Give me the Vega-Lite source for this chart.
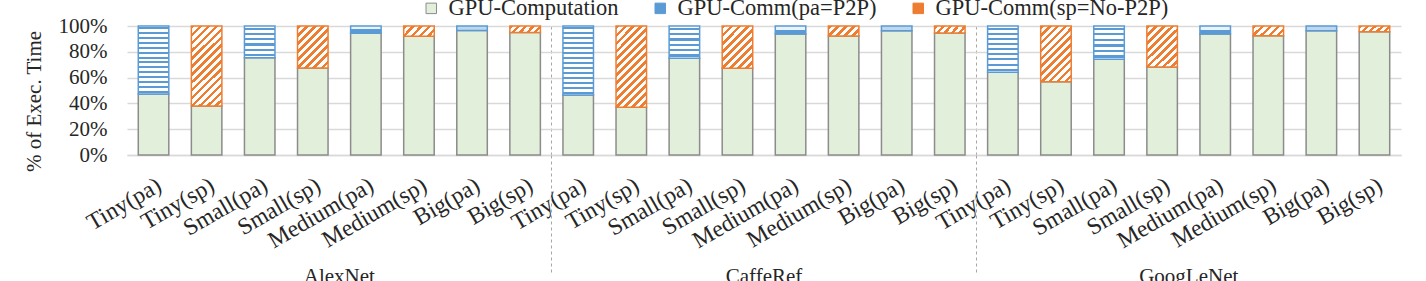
{
"$schema": "https://vega.github.io/schema/vega-lite/v6.json",
"width": 1274, "height": 129,
"autosize": {"type": "none"},
"padding": {"left": 127, "top": 26, "right": 25, "bottom": 126},
"background": "white",
"config": {"font": "Liberation Serif", "view": {"stroke": null}, "axis": {"labelFont": "Liberation Serif", "titleFont": "Liberation Serif"}, "legend": {"labelFont": "Liberation Serif"}, "text": {"font": "Liberation Serif"}},
"data": {"values": [
{"key":"AlexNet|Tiny(pa)","series":"GPU-Computation","value":47.3},{"key":"AlexNet|Tiny(pa)","series":"GPU-Comm(pa=P2P)","value":52.7},
{"key":"AlexNet|Tiny(sp)","series":"GPU-Computation","value":38},{"key":"AlexNet|Tiny(sp)","series":"GPU-Comm(sp=No-P2P)","value":62},
{"key":"AlexNet|Small(pa)","series":"GPU-Computation","value":75.4},{"key":"AlexNet|Small(pa)","series":"GPU-Comm(pa=P2P)","value":24.6},
{"key":"AlexNet|Small(sp)","series":"GPU-Computation","value":67.4},{"key":"AlexNet|Small(sp)","series":"GPU-Comm(sp=No-P2P)","value":32.6},
{"key":"AlexNet|Medium(pa)","series":"GPU-Computation","value":94.3},{"key":"AlexNet|Medium(pa)","series":"GPU-Comm(pa=P2P)","value":5.7},
{"key":"AlexNet|Medium(sp)","series":"GPU-Computation","value":92},{"key":"AlexNet|Medium(sp)","series":"GPU-Comm(sp=No-P2P)","value":8},
{"key":"AlexNet|Big(pa)","series":"GPU-Computation","value":96.5},{"key":"AlexNet|Big(pa)","series":"GPU-Comm(pa=P2P)","value":3.5},
{"key":"AlexNet|Big(sp)","series":"GPU-Computation","value":95},{"key":"AlexNet|Big(sp)","series":"GPU-Comm(sp=No-P2P)","value":5},
{"key":"CaffeRef|Tiny(pa)","series":"GPU-Computation","value":46.5},{"key":"CaffeRef|Tiny(pa)","series":"GPU-Comm(pa=P2P)","value":53.5},
{"key":"CaffeRef|Tiny(sp)","series":"GPU-Computation","value":37},{"key":"CaffeRef|Tiny(sp)","series":"GPU-Comm(sp=No-P2P)","value":63},
{"key":"CaffeRef|Small(pa)","series":"GPU-Computation","value":75},{"key":"CaffeRef|Small(pa)","series":"GPU-Comm(pa=P2P)","value":25},
{"key":"CaffeRef|Small(sp)","series":"GPU-Computation","value":67.2},{"key":"CaffeRef|Small(sp)","series":"GPU-Comm(sp=No-P2P)","value":32.8},
{"key":"CaffeRef|Medium(pa)","series":"GPU-Computation","value":93.8},{"key":"CaffeRef|Medium(pa)","series":"GPU-Comm(pa=P2P)","value":6.2},
{"key":"CaffeRef|Medium(sp)","series":"GPU-Computation","value":92.2},{"key":"CaffeRef|Medium(sp)","series":"GPU-Comm(sp=No-P2P)","value":7.8},
{"key":"CaffeRef|Big(pa)","series":"GPU-Computation","value":96.4},{"key":"CaffeRef|Big(pa)","series":"GPU-Comm(pa=P2P)","value":3.6},
{"key":"CaffeRef|Big(sp)","series":"GPU-Computation","value":94.5},{"key":"CaffeRef|Big(sp)","series":"GPU-Comm(sp=No-P2P)","value":5.5},
{"key":"GoogLeNet|Tiny(pa)","series":"GPU-Computation","value":64.1},{"key":"GoogLeNet|Tiny(pa)","series":"GPU-Comm(pa=P2P)","value":35.9},
{"key":"GoogLeNet|Tiny(sp)","series":"GPU-Computation","value":56.8},{"key":"GoogLeNet|Tiny(sp)","series":"GPU-Comm(sp=No-P2P)","value":43.2},
{"key":"GoogLeNet|Small(pa)","series":"GPU-Computation","value":74.2},{"key":"GoogLeNet|Small(pa)","series":"GPU-Comm(pa=P2P)","value":25.8},
{"key":"GoogLeNet|Small(sp)","series":"GPU-Computation","value":68.2},{"key":"GoogLeNet|Small(sp)","series":"GPU-Comm(sp=No-P2P)","value":31.8},
{"key":"GoogLeNet|Medium(pa)","series":"GPU-Computation","value":93.8},{"key":"GoogLeNet|Medium(pa)","series":"GPU-Comm(pa=P2P)","value":6.2},
{"key":"GoogLeNet|Medium(sp)","series":"GPU-Computation","value":92.5},{"key":"GoogLeNet|Medium(sp)","series":"GPU-Comm(sp=No-P2P)","value":7.5},
{"key":"GoogLeNet|Big(pa)","series":"GPU-Computation","value":96.4},{"key":"GoogLeNet|Big(pa)","series":"GPU-Comm(pa=P2P)","value":3.6},
{"key":"GoogLeNet|Big(sp)","series":"GPU-Computation","value":95.6},{"key":"GoogLeNet|Big(sp)","series":"GPU-Comm(sp=No-P2P)","value":4.4}
]},
"encoding": {
  "y": {"field": "value", "type": "quantitative", "stack": "zero", "scale": {"domain": [0, 100]},
    "axis": {"values": [0,20,40,60,80,100], "labelExpr": "datum.value + '%'", "title": "% of Exec. Time", "titleFont": "Liberation Serif", "titleFontSize": 21, "titleFontWeight": "normal", "titleColor": "#262626", "titlePadding": 14, "titleY": 75, "labelFont": "Liberation Serif", "labelFontSize": 21, "labelColor": "#262626", "labelPadding": 20, "ticks": false, "domain": false, "gridColor": "#D9D9D9", "gridWidth": 1.5}}
},
"layer": [
 {"mark": {"type": "bar", "strokeWidth": 1.5},
  "encoding": {
   "x": {"field": "key", "type": "nominal",
     "scale": {"domain": ["AlexNet|Tiny(pa)","AlexNet|Tiny(sp)","AlexNet|Small(pa)","AlexNet|Small(sp)","AlexNet|Medium(pa)","AlexNet|Medium(sp)","AlexNet|Big(pa)","AlexNet|Big(sp)","CaffeRef|Tiny(pa)","CaffeRef|Tiny(sp)","CaffeRef|Small(pa)","CaffeRef|Small(sp)","CaffeRef|Medium(pa)","CaffeRef|Medium(sp)","CaffeRef|Big(pa)","CaffeRef|Big(sp)","GoogLeNet|Tiny(pa)","GoogLeNet|Tiny(sp)","GoogLeNet|Small(pa)","GoogLeNet|Small(sp)","GoogLeNet|Medium(pa)","GoogLeNet|Medium(sp)","GoogLeNet|Big(pa)","GoogLeNet|Big(sp)"], "paddingInner": 0.425, "paddingOuter": 0.2125},
     "axis": {"orient": "bottom", "title": null, "labelExpr": "split(datum.label, '|')[1]", "labelFont": "Liberation Serif", "labelAngle": -30, "labelAlign": "right", "labelBaseline": "top", "labelPadding": 18, "labelFontSize": 23.5, "labelColor": "#262626", "ticks": false, "tickSize": 0, "domainColor": "#D9D9D9", "domainWidth": 1.5, "labelOverlap": false, "labelBound": false, "labelLimit": 0, "grid": false}},
   "order": {"field": "series", "sort": "descending"},
   "stroke": {"field": "series", "type": "nominal",
     "scale": {"domain": ["GPU-Computation","GPU-Comm(pa=P2P)","GPU-Comm(sp=No-P2P)"], "range": ["#8C8C8C","#5B9BD5","#ED7D31"]},
     "legend": {"orient": "none", "legendX": 293, "legendY": -29, "direction": "horizontal", "title": null, "columnPadding": 30, "labelOffset": 6, "symbolType": "square", "symbolSize": 110, "symbolStrokeWidth": 1, "labelFont": "Liberation Serif", "labelFontSize": 22.5, "labelColor": "#262626", "labelLimit": 0, "padding": 0}},
   "fill": {"field": "series", "type": "nominal",
     "scale": {"domain": ["GPU-Computation","GPU-Comm(pa=P2P)","GPU-Comm(sp=No-P2P)"], "range": ["#E2EFDA","#5B9BD5","#ED7D31"]},
     "legend": {"orient": "none", "legendX": 293, "legendY": -29, "direction": "horizontal", "title": null, "columnPadding": 30, "labelOffset": 6, "symbolType": "square", "symbolSize": 110, "symbolStrokeWidth": 1, "labelFont": "Liberation Serif", "labelFontSize": 22.5, "labelColor": "#262626", "labelLimit": 0, "padding": 0},
     "condition": [
      {"test": "datum.series === 'GPU-Comm(pa=P2P)' && datum.value > 45", "value": {"gradient": "linear", "x1": 0, "y1": 0, "x2": 0, "y2": 1, "stops": [
        {"offset":0,"color":"#FFFFFF"},
        {"offset":0.0214,"color":"#FFFFFF"},{"offset":0.0214,"color":"#5B9BD5"},{"offset":0.05,"color":"#5B9BD5"},{"offset":0.05,"color":"#FFFFFF"},
        {"offset":0.0929,"color":"#FFFFFF"},{"offset":0.0929,"color":"#5B9BD5"},{"offset":0.1214,"color":"#5B9BD5"},{"offset":0.1214,"color":"#FFFFFF"},
        {"offset":0.1643,"color":"#FFFFFF"},{"offset":0.1643,"color":"#5B9BD5"},{"offset":0.1929,"color":"#5B9BD5"},{"offset":0.1929,"color":"#FFFFFF"},
        {"offset":0.2357,"color":"#FFFFFF"},{"offset":0.2357,"color":"#5B9BD5"},{"offset":0.2643,"color":"#5B9BD5"},{"offset":0.2643,"color":"#FFFFFF"},
        {"offset":0.3071,"color":"#FFFFFF"},{"offset":0.3071,"color":"#5B9BD5"},{"offset":0.3357,"color":"#5B9BD5"},{"offset":0.3357,"color":"#FFFFFF"},
        {"offset":0.3786,"color":"#FFFFFF"},{"offset":0.3786,"color":"#5B9BD5"},{"offset":0.4071,"color":"#5B9BD5"},{"offset":0.4071,"color":"#FFFFFF"},
        {"offset":0.45,"color":"#FFFFFF"},{"offset":0.45,"color":"#5B9BD5"},{"offset":0.4786,"color":"#5B9BD5"},{"offset":0.4786,"color":"#FFFFFF"},
        {"offset":0.5214,"color":"#FFFFFF"},{"offset":0.5214,"color":"#5B9BD5"},{"offset":0.55,"color":"#5B9BD5"},{"offset":0.55,"color":"#FFFFFF"},
        {"offset":0.5929,"color":"#FFFFFF"},{"offset":0.5929,"color":"#5B9BD5"},{"offset":0.6214,"color":"#5B9BD5"},{"offset":0.6214,"color":"#FFFFFF"},
        {"offset":0.6643,"color":"#FFFFFF"},{"offset":0.6643,"color":"#5B9BD5"},{"offset":0.6929,"color":"#5B9BD5"},{"offset":0.6929,"color":"#FFFFFF"},
        {"offset":0.7357,"color":"#FFFFFF"},{"offset":0.7357,"color":"#5B9BD5"},{"offset":0.7643,"color":"#5B9BD5"},{"offset":0.7643,"color":"#FFFFFF"},
        {"offset":0.8071,"color":"#FFFFFF"},{"offset":0.8071,"color":"#5B9BD5"},{"offset":0.8357,"color":"#5B9BD5"},{"offset":0.8357,"color":"#FFFFFF"},
        {"offset":0.8786,"color":"#FFFFFF"},{"offset":0.8786,"color":"#5B9BD5"},{"offset":0.9071,"color":"#5B9BD5"},{"offset":0.9071,"color":"#FFFFFF"},
        {"offset":0.95,"color":"#FFFFFF"},{"offset":0.95,"color":"#5B9BD5"},{"offset":0.9786,"color":"#5B9BD5"},{"offset":0.9786,"color":"#FFFFFF"},
        {"offset":1,"color":"#FFFFFF"}]}},
      {"test": "datum.series === 'GPU-Comm(pa=P2P)' && datum.value > 30", "value": {"gradient": "linear", "x1": 0, "y1": 0, "x2": 0, "y2": 1, "stops": [
        {"offset":0,"color":"#FFFFFF"},
        {"offset":0.0333,"color":"#FFFFFF"},{"offset":0.0333,"color":"#5B9BD5"},{"offset":0.0778,"color":"#5B9BD5"},{"offset":0.0778,"color":"#FFFFFF"},
        {"offset":0.1444,"color":"#FFFFFF"},{"offset":0.1444,"color":"#5B9BD5"},{"offset":0.1889,"color":"#5B9BD5"},{"offset":0.1889,"color":"#FFFFFF"},
        {"offset":0.2556,"color":"#FFFFFF"},{"offset":0.2556,"color":"#5B9BD5"},{"offset":0.3,"color":"#5B9BD5"},{"offset":0.3,"color":"#FFFFFF"},
        {"offset":0.3667,"color":"#FFFFFF"},{"offset":0.3667,"color":"#5B9BD5"},{"offset":0.4111,"color":"#5B9BD5"},{"offset":0.4111,"color":"#FFFFFF"},
        {"offset":0.4778,"color":"#FFFFFF"},{"offset":0.4778,"color":"#5B9BD5"},{"offset":0.5222,"color":"#5B9BD5"},{"offset":0.5222,"color":"#FFFFFF"},
        {"offset":0.5889,"color":"#FFFFFF"},{"offset":0.5889,"color":"#5B9BD5"},{"offset":0.6333,"color":"#5B9BD5"},{"offset":0.6333,"color":"#FFFFFF"},
        {"offset":0.7,"color":"#FFFFFF"},{"offset":0.7,"color":"#5B9BD5"},{"offset":0.7444,"color":"#5B9BD5"},{"offset":0.7444,"color":"#FFFFFF"},
        {"offset":0.8111,"color":"#FFFFFF"},{"offset":0.8111,"color":"#5B9BD5"},{"offset":0.8556,"color":"#5B9BD5"},{"offset":0.8556,"color":"#FFFFFF"},
        {"offset":0.9222,"color":"#FFFFFF"},{"offset":0.9222,"color":"#5B9BD5"},{"offset":0.9667,"color":"#5B9BD5"},{"offset":0.9667,"color":"#FFFFFF"},
        {"offset":1,"color":"#FFFFFF"}]}},
      {"test": "datum.series === 'GPU-Comm(pa=P2P)' && datum.value > 15", "value": {"gradient": "linear", "x1": 0, "y1": 0, "x2": 0, "y2": 1, "stops": [
        {"offset":0,"color":"#FFFFFF"},
        {"offset":0.05,"color":"#FFFFFF"},{"offset":0.05,"color":"#5B9BD5"},{"offset":0.1167,"color":"#5B9BD5"},{"offset":0.1167,"color":"#FFFFFF"},
        {"offset":0.2167,"color":"#FFFFFF"},{"offset":0.2167,"color":"#5B9BD5"},{"offset":0.2833,"color":"#5B9BD5"},{"offset":0.2833,"color":"#FFFFFF"},
        {"offset":0.3833,"color":"#FFFFFF"},{"offset":0.3833,"color":"#5B9BD5"},{"offset":0.45,"color":"#5B9BD5"},{"offset":0.45,"color":"#FFFFFF"},
        {"offset":0.55,"color":"#FFFFFF"},{"offset":0.55,"color":"#5B9BD5"},{"offset":0.6167,"color":"#5B9BD5"},{"offset":0.6167,"color":"#FFFFFF"},
        {"offset":0.7167,"color":"#FFFFFF"},{"offset":0.7167,"color":"#5B9BD5"},{"offset":0.7833,"color":"#5B9BD5"},{"offset":0.7833,"color":"#FFFFFF"},
        {"offset":0.8833,"color":"#FFFFFF"},{"offset":0.8833,"color":"#5B9BD5"},{"offset":0.95,"color":"#5B9BD5"},{"offset":0.95,"color":"#FFFFFF"},
        {"offset":1,"color":"#FFFFFF"}]}},
      {"test": "datum.series === 'GPU-Comm(pa=P2P)' && datum.value > 5", "value": {"gradient": "linear", "x1": 0, "y1": 0, "x2": 0, "y2": 1, "stops": [
        {"offset":0,"color":"#EAF2FA"},{"offset":0.45,"color":"#EAF2FA"},{"offset":0.45,"color":"#5B9BD5"},{"offset":1,"color":"#5B9BD5"}]}},
      {"test": "datum.series === 'GPU-Comm(pa=P2P)'", "value": "#BDD7EE"},
      {"test": "datum.series === 'GPU-Comm(sp=No-P2P)' && datum.value > 55", "value": {"gradient": "linear", "x1": 0, "y1": 0, "x2": 0.454, "y2": 1.206, "stops": [
        {"offset":0,"color":"#ED7D31"},{"offset":0.0321,"color":"#ED7D31"},{"offset":0.0321,"color":"#FFFFFF"},{"offset":0.0714,"color":"#FFFFFF"},
        {"offset":0.0714,"color":"#ED7D31"},{"offset":0.1036,"color":"#ED7D31"},{"offset":0.1036,"color":"#FFFFFF"},{"offset":0.1429,"color":"#FFFFFF"},
        {"offset":0.1429,"color":"#ED7D31"},{"offset":0.175,"color":"#ED7D31"},{"offset":0.175,"color":"#FFFFFF"},{"offset":0.2143,"color":"#FFFFFF"},
        {"offset":0.2143,"color":"#ED7D31"},{"offset":0.2464,"color":"#ED7D31"},{"offset":0.2464,"color":"#FFFFFF"},{"offset":0.2857,"color":"#FFFFFF"},
        {"offset":0.2857,"color":"#ED7D31"},{"offset":0.3179,"color":"#ED7D31"},{"offset":0.3179,"color":"#FFFFFF"},{"offset":0.3571,"color":"#FFFFFF"},
        {"offset":0.3571,"color":"#ED7D31"},{"offset":0.3893,"color":"#ED7D31"},{"offset":0.3893,"color":"#FFFFFF"},{"offset":0.4286,"color":"#FFFFFF"},
        {"offset":0.4286,"color":"#ED7D31"},{"offset":0.4607,"color":"#ED7D31"},{"offset":0.4607,"color":"#FFFFFF"},{"offset":0.5,"color":"#FFFFFF"},
        {"offset":0.5,"color":"#ED7D31"},{"offset":0.5321,"color":"#ED7D31"},{"offset":0.5321,"color":"#FFFFFF"},{"offset":0.5714,"color":"#FFFFFF"},
        {"offset":0.5714,"color":"#ED7D31"},{"offset":0.6036,"color":"#ED7D31"},{"offset":0.6036,"color":"#FFFFFF"},{"offset":0.6429,"color":"#FFFFFF"},
        {"offset":0.6429,"color":"#ED7D31"},{"offset":0.675,"color":"#ED7D31"},{"offset":0.675,"color":"#FFFFFF"},{"offset":0.7143,"color":"#FFFFFF"},
        {"offset":0.7143,"color":"#ED7D31"},{"offset":0.7464,"color":"#ED7D31"},{"offset":0.7464,"color":"#FFFFFF"},{"offset":0.7857,"color":"#FFFFFF"},
        {"offset":0.7857,"color":"#ED7D31"},{"offset":0.8179,"color":"#ED7D31"},{"offset":0.8179,"color":"#FFFFFF"},{"offset":0.8571,"color":"#FFFFFF"},
        {"offset":0.8571,"color":"#ED7D31"},{"offset":0.8893,"color":"#ED7D31"},{"offset":0.8893,"color":"#FFFFFF"},{"offset":0.9286,"color":"#FFFFFF"},
        {"offset":0.9286,"color":"#ED7D31"},{"offset":0.9607,"color":"#ED7D31"},{"offset":0.9607,"color":"#FFFFFF"},{"offset":1,"color":"#FFFFFF"}]}},
      {"test": "datum.series === 'GPU-Comm(sp=No-P2P)' && datum.value > 35", "value": {"gradient": "linear", "x1": 0, "y1": 0, "x2": 0.654, "y2": 1.19, "stops": [
        {"offset":0,"color":"#ED7D31"},{"offset":0.0409,"color":"#ED7D31"},{"offset":0.0409,"color":"#FFFFFF"},{"offset":0.0909,"color":"#FFFFFF"},
        {"offset":0.0909,"color":"#ED7D31"},{"offset":0.1318,"color":"#ED7D31"},{"offset":0.1318,"color":"#FFFFFF"},{"offset":0.1818,"color":"#FFFFFF"},
        {"offset":0.1818,"color":"#ED7D31"},{"offset":0.2227,"color":"#ED7D31"},{"offset":0.2227,"color":"#FFFFFF"},{"offset":0.2727,"color":"#FFFFFF"},
        {"offset":0.2727,"color":"#ED7D31"},{"offset":0.3136,"color":"#ED7D31"},{"offset":0.3136,"color":"#FFFFFF"},{"offset":0.3636,"color":"#FFFFFF"},
        {"offset":0.3636,"color":"#ED7D31"},{"offset":0.4045,"color":"#ED7D31"},{"offset":0.4045,"color":"#FFFFFF"},{"offset":0.4545,"color":"#FFFFFF"},
        {"offset":0.4545,"color":"#ED7D31"},{"offset":0.4955,"color":"#ED7D31"},{"offset":0.4955,"color":"#FFFFFF"},{"offset":0.5455,"color":"#FFFFFF"},
        {"offset":0.5455,"color":"#ED7D31"},{"offset":0.5864,"color":"#ED7D31"},{"offset":0.5864,"color":"#FFFFFF"},{"offset":0.6364,"color":"#FFFFFF"},
        {"offset":0.6364,"color":"#ED7D31"},{"offset":0.6773,"color":"#ED7D31"},{"offset":0.6773,"color":"#FFFFFF"},{"offset":0.7273,"color":"#FFFFFF"},
        {"offset":0.7273,"color":"#ED7D31"},{"offset":0.7682,"color":"#ED7D31"},{"offset":0.7682,"color":"#FFFFFF"},{"offset":0.8182,"color":"#FFFFFF"},
        {"offset":0.8182,"color":"#ED7D31"},{"offset":0.8591,"color":"#ED7D31"},{"offset":0.8591,"color":"#FFFFFF"},{"offset":0.9091,"color":"#FFFFFF"},
        {"offset":0.9091,"color":"#ED7D31"},{"offset":0.95,"color":"#ED7D31"},{"offset":0.95,"color":"#FFFFFF"},{"offset":1,"color":"#FFFFFF"}]}},
      {"test": "datum.series === 'GPU-Comm(sp=No-P2P)' && datum.value > 20", "value": {"gradient": "linear", "x1": 0, "y1": 0, "x2": 0.821, "y2": 1.13, "stops": [
        {"offset":0,"color":"#ED7D31"},{"offset":0.05,"color":"#ED7D31"},{"offset":0.05,"color":"#FFFFFF"},{"offset":0.1111,"color":"#FFFFFF"},
        {"offset":0.1111,"color":"#ED7D31"},{"offset":0.1611,"color":"#ED7D31"},{"offset":0.1611,"color":"#FFFFFF"},{"offset":0.2222,"color":"#FFFFFF"},
        {"offset":0.2222,"color":"#ED7D31"},{"offset":0.2722,"color":"#ED7D31"},{"offset":0.2722,"color":"#FFFFFF"},{"offset":0.3333,"color":"#FFFFFF"},
        {"offset":0.3333,"color":"#ED7D31"},{"offset":0.3833,"color":"#ED7D31"},{"offset":0.3833,"color":"#FFFFFF"},{"offset":0.4444,"color":"#FFFFFF"},
        {"offset":0.4444,"color":"#ED7D31"},{"offset":0.4944,"color":"#ED7D31"},{"offset":0.4944,"color":"#FFFFFF"},{"offset":0.5556,"color":"#FFFFFF"},
        {"offset":0.5556,"color":"#ED7D31"},{"offset":0.6056,"color":"#ED7D31"},{"offset":0.6056,"color":"#FFFFFF"},{"offset":0.6667,"color":"#FFFFFF"},
        {"offset":0.6667,"color":"#ED7D31"},{"offset":0.7167,"color":"#ED7D31"},{"offset":0.7167,"color":"#FFFFFF"},{"offset":0.7778,"color":"#FFFFFF"},
        {"offset":0.7778,"color":"#ED7D31"},{"offset":0.8278,"color":"#ED7D31"},{"offset":0.8278,"color":"#FFFFFF"},{"offset":0.8889,"color":"#FFFFFF"},
        {"offset":0.8889,"color":"#ED7D31"},{"offset":0.9389,"color":"#ED7D31"},{"offset":0.9389,"color":"#FFFFFF"},{"offset":1,"color":"#FFFFFF"}]}},
      {"test": "datum.series === 'GPU-Comm(sp=No-P2P)' && datum.value > 6", "value": {"gradient": "linear", "x1": 0, "y1": 0, "x2": 1.199, "y2": 0.393, "stops": [
        {"offset":0,"color":"#ED7D31"},{"offset":0.09,"color":"#ED7D31"},{"offset":0.09,"color":"#FFFFFF"},{"offset":0.2,"color":"#FFFFFF"},
        {"offset":0.2,"color":"#ED7D31"},{"offset":0.29,"color":"#ED7D31"},{"offset":0.29,"color":"#FFFFFF"},{"offset":0.4,"color":"#FFFFFF"},
        {"offset":0.4,"color":"#ED7D31"},{"offset":0.49,"color":"#ED7D31"},{"offset":0.49,"color":"#FFFFFF"},{"offset":0.6,"color":"#FFFFFF"},
        {"offset":0.6,"color":"#ED7D31"},{"offset":0.69,"color":"#ED7D31"},{"offset":0.69,"color":"#FFFFFF"},{"offset":0.8,"color":"#FFFFFF"},
        {"offset":0.8,"color":"#ED7D31"},{"offset":0.89,"color":"#ED7D31"},{"offset":0.89,"color":"#FFFFFF"},{"offset":1,"color":"#FFFFFF"}]}},
      {"test": "datum.series === 'GPU-Comm(sp=No-P2P)'", "value": {"gradient": "linear", "x1": 0, "y1": 0, "x2": 1.152, "y2": 0.227, "stops": [
        {"offset":0,"color":"#ED7D31"},{"offset":0.09,"color":"#ED7D31"},{"offset":0.09,"color":"#FFFFFF"},{"offset":0.2,"color":"#FFFFFF"},
        {"offset":0.2,"color":"#ED7D31"},{"offset":0.29,"color":"#ED7D31"},{"offset":0.29,"color":"#FFFFFF"},{"offset":0.4,"color":"#FFFFFF"},
        {"offset":0.4,"color":"#ED7D31"},{"offset":0.49,"color":"#ED7D31"},{"offset":0.49,"color":"#FFFFFF"},{"offset":0.6,"color":"#FFFFFF"},
        {"offset":0.6,"color":"#ED7D31"},{"offset":0.69,"color":"#ED7D31"},{"offset":0.69,"color":"#FFFFFF"},{"offset":0.8,"color":"#FFFFFF"},
        {"offset":0.8,"color":"#ED7D31"},{"offset":0.89,"color":"#ED7D31"},{"offset":0.89,"color":"#FFFFFF"},{"offset":1,"color":"#FFFFFF"}]}}
     ]}
  }},
 {"mark": {"type": "bar", "opacity": 0},
  "encoding": {
   "x": {"field": "key", "type": "nominal",
     "axis": {"orient": "bottom", "title": null, "values": ["AlexNet|Medium(pa)","CaffeRef|Medium(pa)","GoogLeNet|Medium(pa)"], "bandPosition": 0, "labelOffset": -26.5, "labelExpr": "split(datum.label, '|')[0]", "labelFont": "Liberation Serif", "labelAngle": 0, "labelAlign": "center", "labelBaseline": "top", "labelPadding": 110, "labelFontSize": 21, "labelColor": "#262626", "ticks": false, "tickSize": 0, "domain": false, "grid": false, "labelOverlap": false, "labelBound": false}}
  }},
 {"mark": {"type": "bar", "opacity": 0},
  "encoding": {
   "x": {"field": "key", "type": "nominal",
     "axis": {"orient": "bottom", "title": null, "values": ["CaffeRef|Tiny(pa)","GoogLeNet|Tiny(pa)"], "bandPosition": -0.37, "labels": false, "ticks": true, "tickSize": 120, "tickColor": "#A6A6A6", "tickDash": [3,3], "tickWidth": 1, "domain": false, "grid": true, "gridColor": "#A6A6A6", "gridDash": [3,3], "gridWidth": 1}}
  }}
],
"resolve": {"axis": {"x": "independent"}}
}
